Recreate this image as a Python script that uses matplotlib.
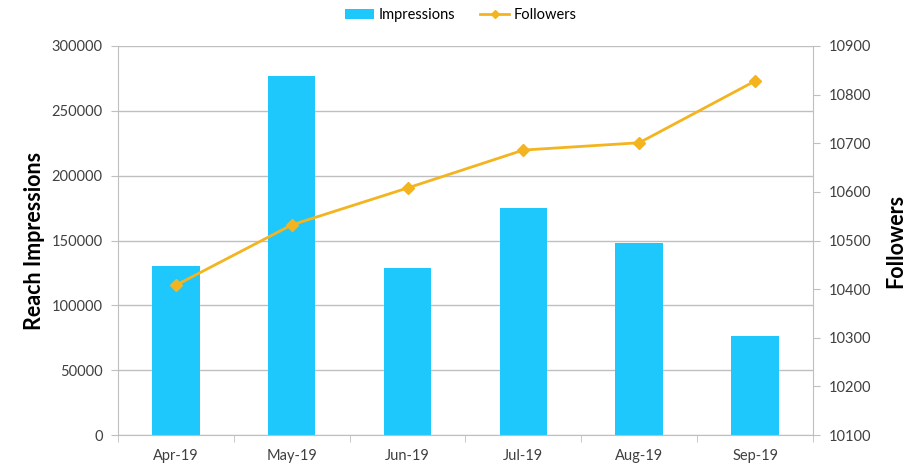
import matplotlib
matplotlib.use("Agg")
import matplotlib.pyplot as plt
import numpy as np

months = ["Apr-19", "May-19", "Jun-19", "Jul-19", "Aug-19", "Sep-19"]
impressions = [130000, 277000, 129000, 175000, 148000, 76000]
followers = [10408, 10532, 10608, 10686, 10701, 10828]
left_ticks = [0, 50000, 100000, 150000, 200000, 250000, 300000]
right_ticks = [10100, 10200, 10300, 10400, 10500, 10600, 10700, 10800, 10900]

plt.rcParams['font.family'] = ['Lato', 'DejaVu Sans']
bar_color = '#1FC8FC'
line_color = '#F4B41F'
grid_color = '#BFBFBF'
text_color = '#404040'

fig = plt.figure(figsize=(9.18, 4.66), dpi=100)
ax = fig.add_axes([0.1285, 0.0665, 0.7571, 0.8348])
x = np.arange(len(months))
bars = ax.bar(x, impressions, width=0.41, color=bar_color, zorder=2, label='Impressions')
ax.set_xlim(-0.5, len(months) - 0.5)
ax.set_ylim(0, 300000)
ax.set_yticks(left_ticks)
ax.set_yticklabels([str(v) for v in left_ticks])
ax.grid(axis='y', color=grid_color, linewidth=1, zorder=0)
ax.set_xticks(x)
ax.set_xticklabels(months)
ax.set_xticks(np.arange(-0.5, len(months)), minor=True)
ax.tick_params(axis='x', which='major', length=0, pad=10, labelsize=10.5, colors=text_color)
ax.tick_params(axis='x', which='minor', length=5, color=grid_color, direction='out')
ax.tick_params(axis='y', length=5, color=grid_color, labelsize=10.5, colors=text_color, pad=6)
for s in ['top', 'right']:
    ax.spines[s].set_visible(False)
for s in ['left', 'bottom']:
    ax.spines[s].set_color(grid_color)
ax.set_ylabel('Reach Impressions', fontsize=15.5, fontweight='bold', color='black', labelpad=5)

ax2 = ax.twinx()
line, = ax2.plot(x, followers, color=line_color, linewidth=2, marker='D', markersize=6,
                 label='Followers', zorder=3)
ax2.set_ylim(10100, 10900)
ax2.set_yticks(right_ticks)
ax2.set_yticklabels([str(v) for v in right_ticks])
ax2.tick_params(axis='y', length=5, color=grid_color, labelsize=10.5, colors=text_color, pad=6)
for s in ['top', 'left', 'bottom']:
    ax2.spines[s].set_visible(False)
ax2.spines['right'].set_color(grid_color)
ax2.set_ylabel('Followers', fontsize=15.5, fontweight='bold', color='black', labelpad=10)

fig.legend([bars, line], ['Impressions', 'Followers'], loc='upper center',
           bbox_to_anchor=(0.502, 1.01), ncol=2, frameon=False, fontsize=10.5,
           handlelength=2.0, columnspacing=1.7, handletextpad=0.3, markerscale=0.7)

fig.savefig('out.png', dpi=100)
